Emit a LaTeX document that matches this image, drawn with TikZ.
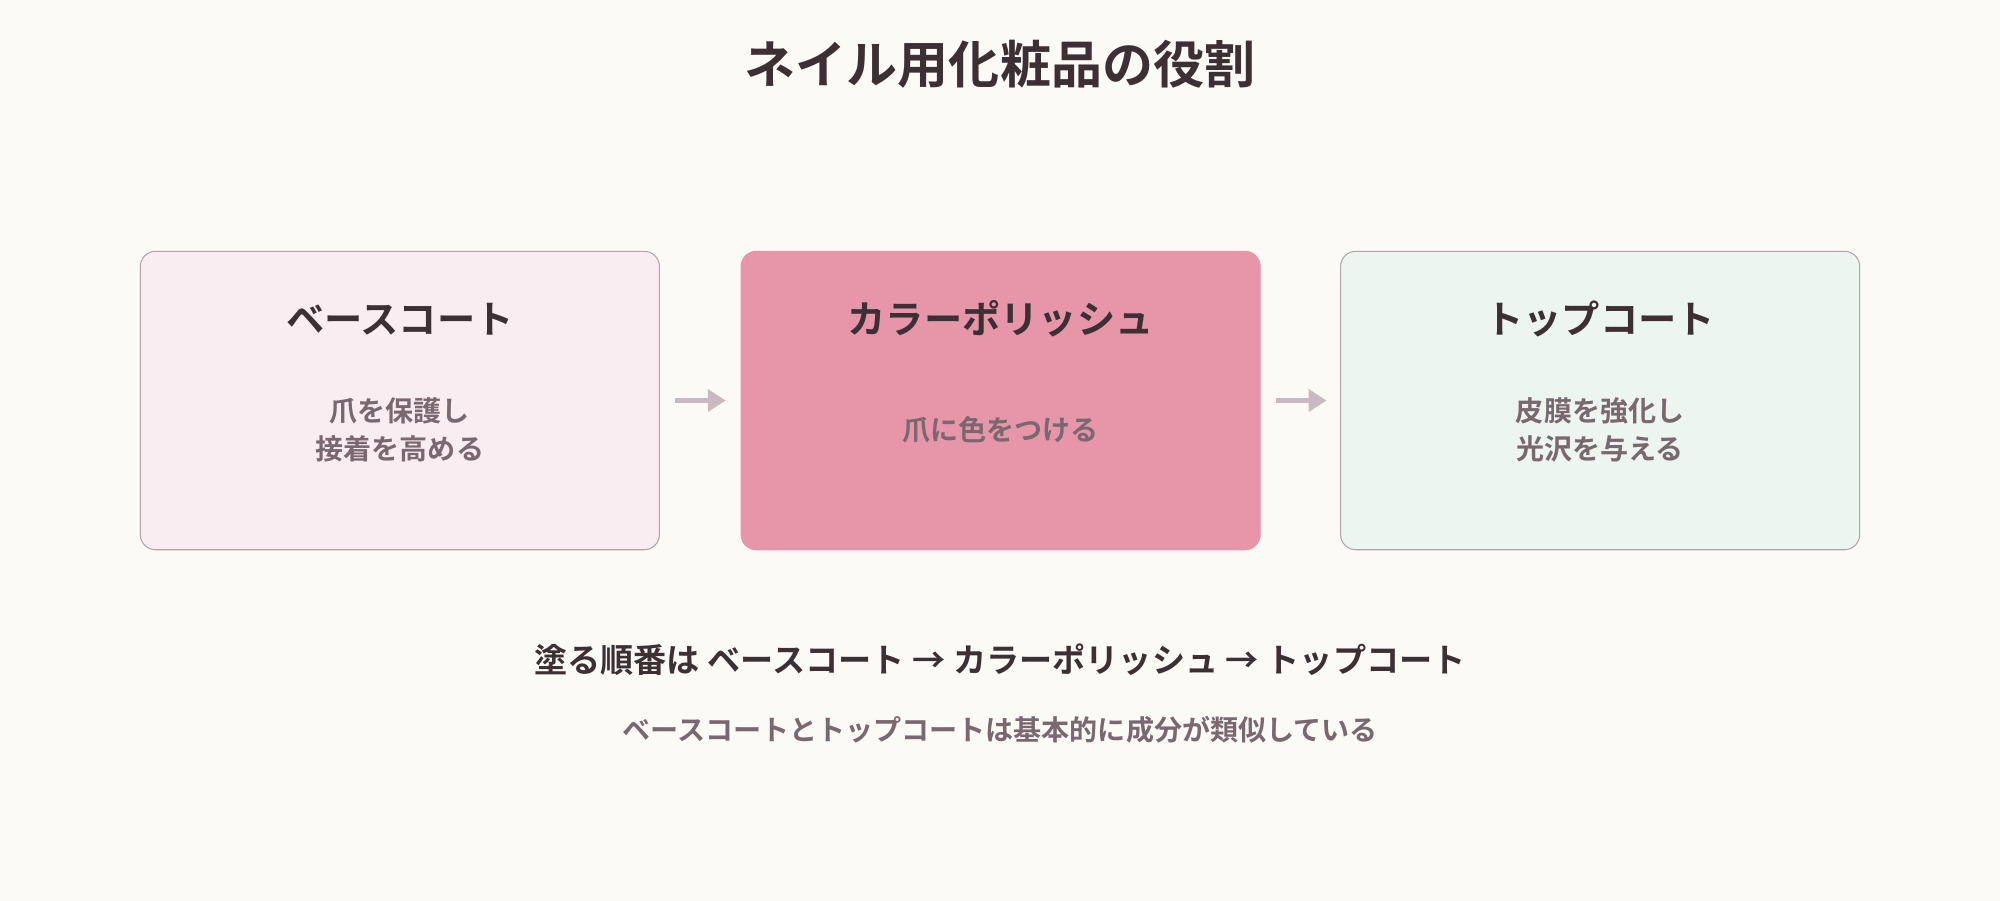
\documentclass[tikz,border=0pt]{standalone}
\usepackage{fontspec}
\newfontfamily\cjk{Noto Sans CJK JP}
\newfontfamily\cjkb{Noto Sans CJK JP}[BoldFont={* Bold}]
\usetikzlibrary{arrows.meta}
\definecolor{bg}{HTML}{FBFAF6}
\definecolor{dark}{HTML}{3D3035}
\definecolor{mid}{HTML}{7A6870}
\definecolor{bord}{HTML}{B0A4AA}
\definecolor{f1}{HTML}{FAEDF2}
\definecolor{f2}{HTML}{E796AA}
\definecolor{f3}{HTML}{EDF5F0}
\definecolor{arr}{HTML}{C9BAC1}
\begin{document}
\begin{tikzpicture}[x=1pt,y=-1pt,
 box/.style={draw=bord,line width=0.8pt,rounded corners=12pt,minimum width=407pt,minimum height=234pt,inner sep=0pt},
 ttl/.style={font=\cjkb\bfseries\fontsize{30}{36}\selectfont,text=dark},
 body/.style={font=\cjkb\bfseries\fontsize{22}{30}\selectfont,text=mid,align=center},
 ar/.style={arr,line width=4pt,-{Triangle[length=14pt,width=17pt]}}]
\fill[bg] (0,0) rectangle (1568,706);
\useasboundingbox (0,0) rectangle (1568,706);
\node[font=\cjkb\bfseries\fontsize{40}{48}\selectfont,text=dark] (title) at (784,50) {ネイル用化粧品の役割};
\node[box,fill=f1] (b1) at (313.5,314) {};
\node[box,fill=f2,draw=f2] (b2) at (784.5,314) {};
\node[box,fill=f3] (b3) at (1254.5,314) {};
\node[ttl] (t1) at (313.5,250) {ベースコート};
\node[ttl] (t2) at (784.5,250) {カラーポリッシュ};
\node[ttl] (t3) at (1254.5,250) {トップコート};
\node[body] (d1) at (313.5,337) {爪を保護し\\接着を高める};
\node[body] (d2) at (784.5,337) {爪に色をつける};
\node[body] (d3) at (1254.5,337) {皮膜を強化し\\光沢を与える};
\coordinate (a1s) at (529,314); \coordinate (a1e) at (569,314);
\coordinate (a2s) at (1000,314); \coordinate (a2e) at (1040,314);
\draw[ar] (a1s) -- (a1e);
\draw[ar] (a2s) -- (a2e);
\node[font=\cjkb\bfseries\fontsize{26}{30}\selectfont,text=dark] (s1) at (784,517) {塗る順番は ベースコート → カラーポリッシュ → トップコート};
\node[font=\cjkb\bfseries\fontsize{22}{28}\selectfont,text=mid] (s2) at (784,572) {ベースコートとトップコートは基本的に成分が類似している};
\end{tikzpicture}
\end{document}
